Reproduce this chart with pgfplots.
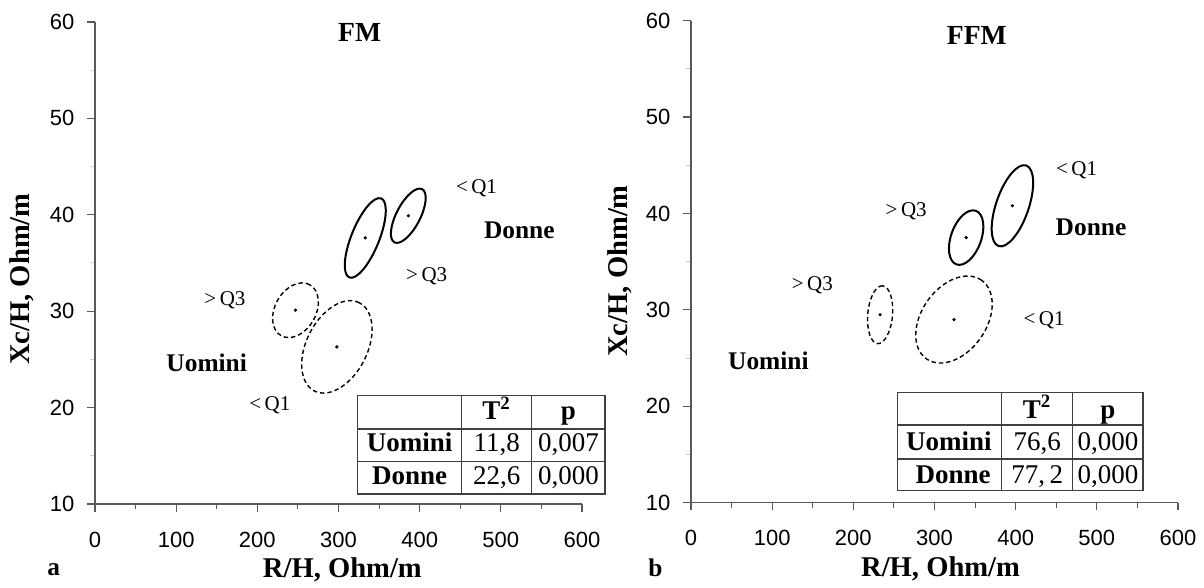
\documentclass[border=0pt]{standalone}
\usepackage{fontspec}
\setmainfont{Liberation Serif}
\newfontfamily\ticksans{Liberation Sans}
\usepackage{pgfplots}
\usepackage{pgfplotstable}
\pgfplotsset{compat=1.18}
\usetikzlibrary{shapes.geometric}

% group means with the orientation and axes (pt) of their ellipses
\pgfplotstableread{
x   y    ang  a    b
333 37.6 68   42.6 13.9
386 39.9 62.5 30.0 11.9
}\fmDonne
\pgfplotstableread{
x   y    ang  a    b
247 30.1 60.5 29.2 20.5
298 26.3 63   49.5 30.4
}\fmUomini
\pgfplotstableread{
x   y    ang  a    b
339 37.5 70   28.5 15.1
396 40.8 71   42.6 16.3
}\ffmDonne
\pgfplotstableread{
x   y    ang  a    b
233 29.5 85   29.0 12.4
324 29.0 55   48.0 32.4
}\ffmUomini

% position on the page, 1 unit = 0.5pt, measured from the top-left corner
\newcommand{\pp}[2]{({(#1)*0.5pt},{(588-(#2))*0.5pt})}

\pgfplotsset{
  panel/.style={
    scale only axis, width=243.5pt, height=241pt,
    xmin=0, xmax=600, ymin=10, ymax=60,
    axis x line*=bottom, axis y line*=left,
    axis line style={draw=black!65, line width=0.6pt},
    xtick={0,100,...,600}, minor xtick={50,150,...,550},
    ytick={10,20,...,60}, minor ytick={15,25,...,55},
    tick align=outside,
    major tick length=3.8pt, minor tick length=2.5pt,
    major tick style={draw=black!65, line width=0.6pt},
    minor tick style={draw=black!65, line width=0.5pt},
    minor y tick style={draw=black!20},
    ticklabel style={font=\ticksans\fontsize{11}{13}\selectfont},
    /pgf/number format/assume math mode=true,
    xticklabel style={yshift=-6.5pt},
    yticklabel style={xshift=-3pt},
    label style={font=\bfseries\fontsize{14.3}{16}\selectfont},
    xlabel={R/H, Ohm/m}, ylabel={Xc/H, Ohm/m},
    every axis title shift=0pt,
    title style={font=\bfseries\fontsize{13.8}{15}\selectfont, anchor=center},
    clip=false,
  },
  groupmean/.style={
    only marks, black, mark=*, mark size=0.6pt, mark options={solid},
    visualization depends on={\thisrow{ang}\as\eang},
    visualization depends on={\thisrow{a}\as\ea},
    visualization depends on={\thisrow{b}\as\eb},
    nodes near coords={},
    every node near coord/.append style={draw=black, ellipse, inner sep=0pt,
      outer sep=0pt, anchor=center, rotate=\eang,
      minimum width=\ea pt, minimum height=\eb pt},
  },
  donne/.style={groupmean,
    every node near coord/.append style={solid, line width=1pt}},
  uomini/.style={groupmean,
    every node near coord/.append style={line width=0.7pt,
      dash pattern=on 2.2pt off 1.5pt}},
}

\tikzset{
  anno/.style={font=\fontsize{10.5}{12}\selectfont, inner sep=0pt},
  grp/.style={font=\bfseries\fontsize{12.7}{14}\selectfont, inner sep=0pt},
  cell/.style={font=\fontsize{13.5}{15}\selectfont, inner sep=0pt, anchor=base},
  tbl/.style={draw=black!75, line width=0.7pt},
}

\begin{document}
\begin{tikzpicture}
\path[use as bounding box] (0,0) rectangle (602pt,294pt);

% ---------- panel a: FM ----------
\begin{axis}[panel, at={(47.5pt,42pt)}, anchor=south west,
  title={FM}, title style={at={(axis description cs:0.5435,0.979)}},
  xlabel style={at={(axis description cs:0.508,-0.137)}, anchor=center},
  ylabel style={at={(axis description cs:-0.1505,0.4665)}, anchor=center}]
\addplot[donne] table {\fmDonne};
\addplot[uomini] table {\fmUomini};
\end{axis}

% ---------- panel b: FFM ----------
\begin{axis}[panel, at={(345.5pt,42.65pt)}, anchor=south west,
  title={FFM}, title style={at={(axis description cs:0.587,0.970)}},
  xlabel style={at={(axis description cs:0.5125,-0.138)}, anchor=center},
  ylabel style={at={(axis description cs:-0.1458,0.4807)}, anchor=center}]
\addplot[donne] table {\ffmDonne};
\addplot[uomini] table {\ffmUomini};
\end{axis}

% group annotations, panel a
\node[anno] at \pp{476.5}{188.3} {<\,Q1};
\node[grp]  at \pp{519.3}{230.7} {Donne};
\node[anno] at \pp{426.7}{276}   {>\,Q3};
\node[anno] at \pp{225}{300.7}   {>\,Q3};
\node[grp]  at \pp{206.7}{362.7} {Uomini};
\node[anno] at \pp{269.8}{405}   {<\,Q1};
\node[grp]  at \pp{53.6}{570}    {a};

% group annotations, panel b
\node[anno] at \pp{1076.5}{170}  {<\,Q1};
\node[anno] at \pp{906.2}{211.7} {>\,Q3};
\node[grp]  at \pp{1091}{227.7}  {Donne};
\node[anno] at \pp{812.4}{285}   {>\,Q3};
\node[anno] at \pp{1044}{320}    {<\,Q1};
\node[grp]  at \pp{768.4}{360.7} {Uomini};
\node[grp]  at \pp{655.5}{568.3} {b};

% Hotelling test table, panel a
\fill[white] \pp{357.7}{395.7} rectangle \pp{605}{494};
\draw[tbl] \pp{357.7}{395.7} rectangle \pp{605}{494};
\draw[tbl] \pp{461.7}{395.7} -- \pp{461.7}{494};
\draw[tbl] \pp{531.7}{395.7} -- \pp{531.7}{494};
\draw[tbl] \pp{357.7}{429} -- \pp{605}{429};
\draw[tbl] \pp{357.7}{461.7} -- \pp{605}{461.7};
\node[cell] at \pp{496.7}{420}   {\textbf{T\textsuperscript{2}}};
\node[cell] at \pp{568.4}{420}   {\textbf{p}};
\node[cell] at \pp{409.7}{451.7} {\textbf{Uomini}};
\node[cell] at \pp{496.7}{451.7} {11,8};
\node[cell] at \pp{568.4}{451.7} {0,007};
\node[cell] at \pp{409.7}{485}   {\textbf{Donne}};
\node[cell] at \pp{496.7}{485}   {22,6};
\node[cell] at \pp{568.4}{485}   {0,000};

% Hotelling test table, panel b
\fill[white] \pp{897.7}{392.3} rectangle \pp{1143}{490.7};
\draw[tbl] \pp{897.7}{392.3} rectangle \pp{1143}{490.7};
\draw[tbl] \pp{1001.7}{392.3} -- \pp{1001.7}{490.7};
\draw[tbl] \pp{1072.7}{392.3} -- \pp{1072.7}{490.7};
\draw[tbl] \pp{897.7}{425} -- \pp{1143}{425};
\draw[tbl] \pp{897.7}{459} -- \pp{1143}{459};
\node[cell] at \pp{1037.2}{418.3} {\textbf{T\textsuperscript{2}}};
\node[cell] at \pp{1107.9}{418.3} {\textbf{p}};
\node[cell, anchor=base east] at \pp{992}{450.7} {\textbf{Uomini}};
\node[cell] at \pp{1037.2}{450.7} {76,6};
\node[cell] at \pp{1107.9}{450.7} {0,000};
\node[cell, anchor=base east] at \pp{991}{483.3} {\textbf{Donne}};
\node[cell] at \pp{1037.2}{483.3} {77,\,2};
\node[cell] at \pp{1107.9}{483.3} {0,000};
\end{tikzpicture}
\end{document}
